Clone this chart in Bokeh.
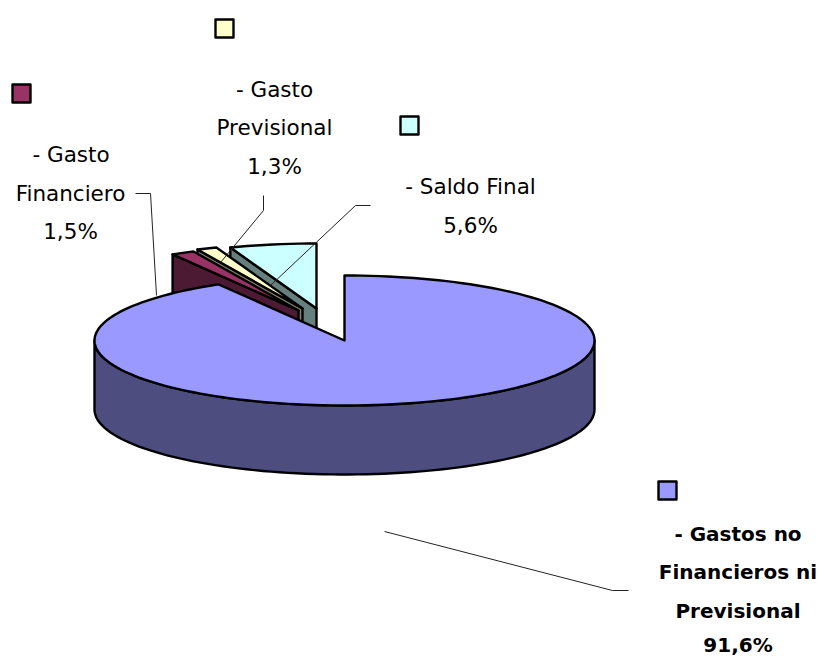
import math
from bokeh.embed import file_html
from bokeh.models import ColumnDataSource, Range1d
from bokeh.plotting import figure
from bokeh.resources import INLINE
from bokeh.core.properties import value

# Share of each budget item, in percent, clockwise from twelve o'clock
names = ["Gastos no Financieros ni Previsional", "Gasto Financiero", "Gasto Previsional", "Saldo Final"]
shares = [91.6, 1.5, 1.3, 5.6]
top_colors = ["#9999ff", "#993366", "#ffffcc", "#ccffff"]
wall_colors = ["#4d4d80", "#4d1a33", "#808066", "#668080"]
pull_x = [0, -46, -42, -28]
pull_y = [0, -30, -32, -32]

CX, CY, RX, RY, DEPTH = 344, 340, 250, 65, 69

p = figure(width=818, height=657, output_backend="svg", toolbar_location=None,
           x_range=Range1d(0, 818), y_range=Range1d(657, 0), min_border=0)
p.xaxis.visible = False
p.yaxis.visible = False
p.grid.visible = False
p.outline_line_color = None


def rim(angle, dx=0, dy=0):
    a = math.radians(angle)
    return CX + dx + RX * math.sin(a), CY + dy - RY * math.cos(a)


def draw(xs, ys, fill, width=2.4):
    p.patch(xs, ys, fill_color=fill, line_color="black", line_width=width, line_join="round")


# Cumulative angles for the slices
bounds = [0.0]
for s in shares:
    bounds.append(bounds[-1] + s * 3.6)

# Small pulled-out slices go first, from back to front, the large slice last
for i in [3, 2, 1, 0]:
    a0, a1 = bounds[i], bounds[i + 1]
    dx, dy = pull_x[i], pull_y[i]
    ax, ay = CX + dx, CY + dy
    steps = max(4, int((a1 - a0) / 2))
    arc = [a0 + (a1 - a0) * k / steps for k in range(steps + 1)]
    pts = [rim(a, dx, dy) for a in arc]

    if i == 0:
        # Outer wall of the front half
        front = [90.0] + [a for a in arc if 90 <= a <= 270] + [270.0]
        fp = [rim(a) for a in front]
        draw([q[0] for q in fp] + [q[0] for q in reversed(fp)],
             [q[1] for q in fp] + [q[1] + DEPTH for q in reversed(fp)], wall_colors[i])
    else:
        # Cut face on the left-hand side of the slice
        ex, ey = pts[0]
        draw([ex, ax, ax, ex], [ey, ay, ay + DEPTH, ey + DEPTH], wall_colors[i])

    draw([ax] + [q[0] for q in pts], [ay] + [q[1] for q in pts], top_colors[i])

# Leader lines
leaders = [
    ([135, 150, 156], [193, 193, 295]),
    ([263, 263, 220], [195, 210, 262]),
    ([370, 355, 270], [205, 205, 285]),
    ([384, 612, 628], [531, 590, 590]),
]
for lx, ly in leaders:
    p.line(lx, ly, line_color="#222222", line_width=1)

# Colour keys next to the labels
keys = ColumnDataSource(dict(
    left=[658, 12, 215, 400],
    right=[676, 30, 233, 418],
    top=[481, 84, 19, 116],
    bottom=[499, 102, 37, 134],
    color=top_colors,
))
p.quad(left="left", right="right", top="top", bottom="bottom", source=keys,
       fill_color="color", line_color="black", line_width=2.4, line_join="round")

# Labels, one entry per line of text
plain = ColumnDataSource(dict(
    x=[70.5, 70, 70, 274, 274, 274, 470, 470],
    y=[154, 193, 231, 89, 127, 166, 186, 225],
    t=["- Gasto", "Financiero", "1,5%", "- Gasto", "Previsional", "1,3%", "- Saldo Final", "5,6%"],
))
p.text(x="x", y="y", text="t", source=plain, text_font=value("DejaVu Sans"), text_font_size="21.5px",
       text_align="center", text_baseline="middle", text_color="black")
strong = ColumnDataSource(dict(
    x=[737.5, 737.5, 737.5, 737.5],
    y=[533, 571, 610, 644.5],
    t=["- Gastos no", "Financieros ni", "Previsional", "91,6%"],
))
p.text(x="x", y="y", text="t", source=strong, text_font=value("DejaVu Sans"), text_font_size="20px",
       text_font_style="bold", text_align="center", text_baseline="middle", text_color="black")

open("out.html", "w").write(file_html(p, INLINE))
